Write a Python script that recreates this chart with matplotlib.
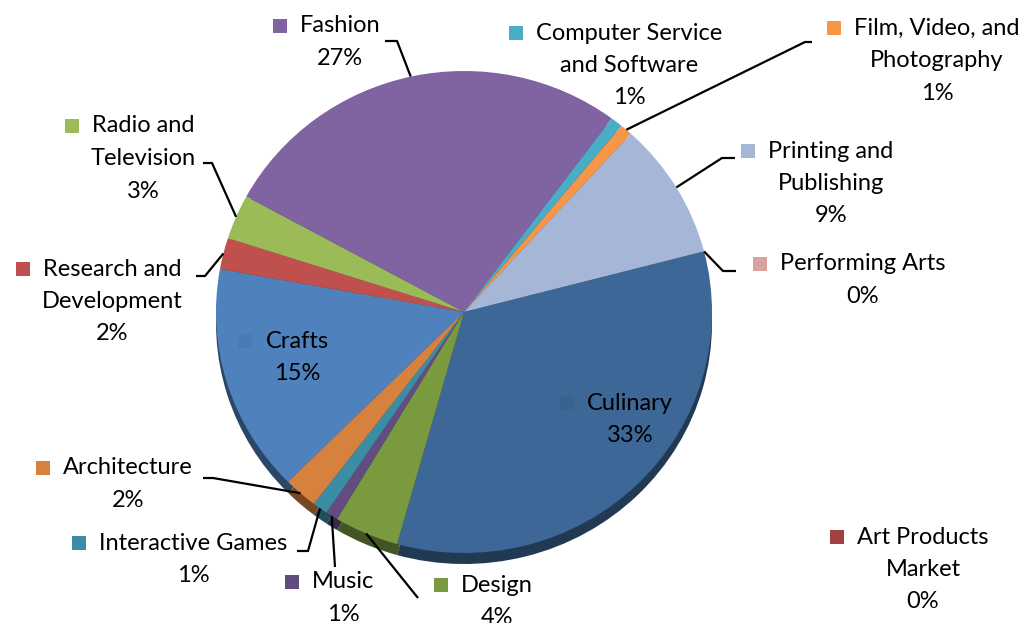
import numpy as np
import matplotlib
matplotlib.use("Agg")
import matplotlib.pyplot as plt
from matplotlib.patches import Rectangle

plt.rcParams['font.family'] = ['Lato', 'DejaVu Sans']

# data, clockwise from the Crafts slice
categories = ["Crafts", "Research and\nDevelopment", "Radio and\nTelevision", "Fashion",
              "Computer Service\nand Software", "Film, Video, and\nPhotography",
              "Printing and\nPublishing", "Performing Arts", "Culinary",
              "Art Products\nMarket", "Design", "Music", "Interactive Games", "Architecture"]
values = [15.3, 2.1, 3.0, 27.2, 0.8, 0.8, 9.2, 0.0, 33.4, 0.0, 4.2, 0.8, 1.0, 2.2]
colors = ["#4F81BD", "#C0504D", "#9BBB59", "#8064A2", "#4BACC6", "#F79646",
          "#A6B6D6", "#D9A3A1", "#3D6796", "#A04340", "#7A9A3F", "#634D80",
          "#3A8DA4", "#D7813F"]

# label layout in pixels: text centre x, first line centre y
label_pos = [(297, 341), (112, 269), (143, 126), (340, 26), (629, 33), (937, 28),
             (831, 151), (863, 264), (630, 403), (923, 537), (497, 585), (343, 582),
             (193, 543), (128, 468)]
# leader lines: label-side points (pie-side end comes from the wedge angle)
leaders = {
    1: [(196, 276), (205, 276)],
    2: [(203, 163), (212, 163)],
    3: [(385, 41), (397, 41)],
    5: [(812, 42), (805, 42)],
    6: [(735, 158), (722, 158)],
    7: [(736, 271), (723, 271)],
    10: [(418, 598)],
    11: [(335, 567)],
    12: [(297, 551), (308, 551)],
    13: [(203, 478), (213, 478)],
}

W, H = 1025, 623
cx, cy, rx, ry = 464, 312, 248, 241
depth = 11
line_h = 32.5
fs = 17

fig = plt.figure(figsize=(W / 100, H / 100), dpi=100)

# side band of the 3D pie
ax_side = fig.add_axes([(cx - rx) / W, (H - (cy + depth + ry)) / H, 2 * rx / W, 2 * ry / H])
dark = [tuple(c * 0.55 for c in matplotlib.colors.to_rgb(col)) for col in colors]
ax_side.pie(values, colors=dark, startangle=224.8, counterclock=False, radius=1,
            wedgeprops=dict(linewidth=0))
ax_side.set_aspect('auto')
ax_side.set_xlim(-1, 1)
ax_side.set_ylim(-1, 1)
ax_side.axis('off')

ax_pie = fig.add_axes([(cx - rx) / W, (H - (cy + ry)) / H, 2 * rx / W, 2 * ry / H])
wedges, _ = ax_pie.pie(values, colors=colors, startangle=224.8, counterclock=False,
                       radius=1, wedgeprops=dict(linewidth=0))
ax_pie.set_aspect('auto')
ax_pie.set_xlim(-1, 1)
ax_pie.set_ylim(-1, 1)
ax_pie.axis('off')

ax = fig.add_axes([0, 0, 1, 1], zorder=3)
ax.set_xlim(0, W)
ax.set_ylim(H, 0)
ax.axis('off')
ax.patch.set_alpha(0)

total = sum(values)
renderer = fig.canvas.get_renderer()
for i, name in enumerate(categories):
    lx, ly = label_pos[i]
    lines = name.split("\n") + [f"{round(values[i] / total * 100):.0f}%"]
    first = None
    for j, s in enumerate(lines):
        t = ax.text(lx, ly + j * line_h, s, ha='center', va='center', fontsize=fs,
                    color='black')
        if j == 0:
            first = t
    bb = first.get_window_extent(renderer)
    msize = 14
    mcol = colors[i]
    if name in ("Crafts", "Culinary"):
        mcol = tuple(c * 0.95 for c in matplotlib.colors.to_rgb(colors[i]))
    ax.add_patch(Rectangle((bb.x0 - 13 - msize, ly - msize / 2), msize, msize,
                           facecolor=mcol, edgecolor='none'))

for i, pts in leaders.items():
    w = wedges[i]
    mid = np.deg2rad((w.theta1 + w.theta2) / 2)
    px = cx + rx * np.cos(mid)
    py = cy - ry * np.sin(mid)
    xs = [p[0] for p in pts] + [px]
    ys = [p[1] for p in pts] + [py]
    ax.plot(xs, ys, color='black', linewidth=1.6, solid_capstyle='butt')

fig.savefig("out.png", dpi=100)
